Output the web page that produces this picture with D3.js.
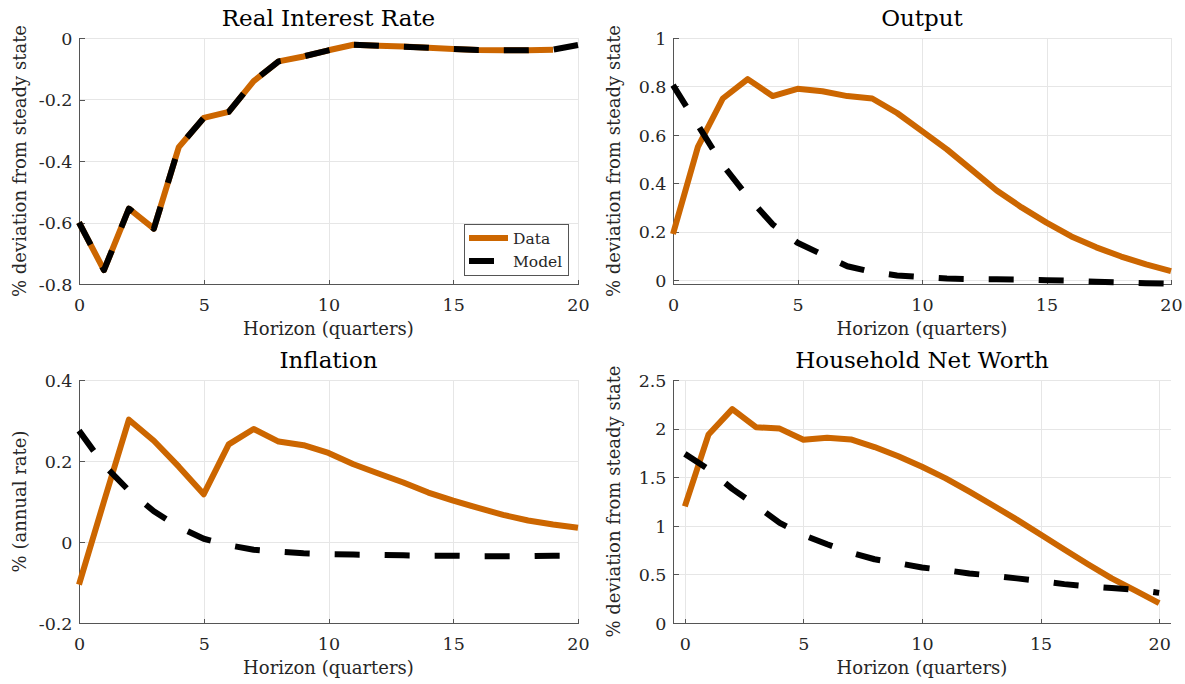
<!DOCTYPE html>
<html>
<head>
<meta charset="utf-8">
<script src="https://cdn.jsdelivr.net/npm/d3@7"></script>
<style>
  html, body { margin: 0; padding: 0; background: #fff; }
</style>
</head>
<body>
<svg id="chart" width="1185" height="684"></svg>
<script>
// Impulse responses, horizon in quarters
const horizon = [0, 1, 2, 3, 4, 5, 6, 7, 8, 9, 10, 11, 12, 13, 14, 15, 16, 17, 18, 19, 20];

// Real interest rate (% deviation from steady state); data stops at quarter 19
const rirData  = [-0.600, -0.755, -0.555, -0.620, -0.355, -0.260, -0.240, -0.140, -0.076, -0.060,
                  -0.040, -0.022, -0.025, -0.028, -0.032, -0.036, -0.039, -0.040, -0.040, -0.038];
const rirModel = [-0.600, -0.755, -0.555, -0.620, -0.355, -0.260, -0.240, -0.140, -0.076, -0.060,
                  -0.040, -0.022, -0.025, -0.028, -0.032, -0.036, -0.039, -0.040, -0.040, -0.038, -0.023];

// Output (% deviation from steady state)
const outputData  = [0.190, 0.550, 0.750, 0.830, 0.760, 0.790, 0.780, 0.760, 0.750, 0.690, 0.615,
                     0.540, 0.455, 0.370, 0.300, 0.237, 0.180, 0.135, 0.097, 0.065, 0.037];
const outputModel = [0.805, 0.640, 0.475, 0.345, 0.230, 0.154, 0.105, 0.057, 0.033, 0.019, 0.012,
                     0.006, 0.004, 0.003, 0.002, -0.001, -0.003, -0.007, -0.010, -0.013, -0.015];

// Inflation (%, annual rate)
const inflData  = [-0.105, 0.100, 0.302, 0.250, 0.186, 0.118, 0.241, 0.279, 0.248, 0.239, 0.220,
                   0.192, 0.169, 0.147, 0.122, 0.102, 0.084, 0.067, 0.053, 0.043, 0.035];
const inflModel = [0.275, 0.190, 0.127, 0.076, 0.037, 0.008, -0.008, -0.019, -0.024, -0.028, -0.030,
                   -0.031, -0.032, -0.033, -0.034, -0.034, -0.035, -0.035, -0.035, -0.034, -0.034];

// Household net worth (% deviation from steady state)
const nwData  = [1.200, 1.940, 2.200, 2.015, 2.000, 1.885, 1.905, 1.889, 1.810, 1.715, 1.607,
                 1.488, 1.352, 1.209, 1.063, 0.910, 0.757, 0.605, 0.459, 0.333, 0.205];
const nwModel = [1.740, 1.580, 1.380, 1.210, 1.030, 0.905, 0.810, 0.724, 0.656, 0.615, 0.571,
                 0.543, 0.510, 0.486, 0.459, 0.431, 0.400, 0.377, 0.360, 0.343, 0.310];

// Tick values
const horizonTicks = [0, 5, 10, 15, 20];
const rirTicks     = [-0.8, -0.6, -0.4, -0.2, 0];
const outputTicks  = [0, 0.2, 0.4, 0.6, 0.8, 1];
const inflTicks    = [-0.2, 0, 0.2, 0.4];
const nwTicks      = [0, 0.5, 1, 1.5, 2, 2.5];

// Labels
const seriesNames = ["Data", "Model"];
const xLabel = "Horizon (quarters)";

const FONT = "'DejaVu Serif', serif";
const COLOR_DATA = "#cc6600";
const COLOR_MODEL = "#000000";
const DASH = "25,25";

const svg = d3.select("#chart");

const panels = [
  { title: "Real Interest Rate", ylabel: "% deviation from steady state",
    data: rirData, model: rirModel, yTicks: rirTicks, yDomain: [-0.8, 0], xDomain: [0, 20],
    box: { l: 79, r: 578, t: 38, b: 284 }, legend: true },
  { title: "Output", ylabel: "% deviation from steady state",
    data: outputData, model: outputModel, yTicks: outputTicks, yDomain: [-0.0165, 1], xDomain: [0, 20],
    box: { l: 673, r: 1171, t: 38, b: 284 } },
  { title: "Inflation", ylabel: "% (annual rate)",
    data: inflData, model: inflModel, yTicks: inflTicks, yDomain: [-0.2, 0.4], xDomain: [0, 20],
    box: { l: 79, r: 578, t: 380, b: 623 } },
  { title: "Household Net Worth", ylabel: "% deviation from steady state",
    data: nwData, model: nwModel, yTicks: nwTicks, yDomain: [0, 2.5], xDomain: [-0.5, 20.5],
    box: { l: 673, r: 1171, t: 380, b: 623 } }
];

function styleText(sel, size, spacing, color) {
  return sel.style("font-family", FONT).style("font-size", size + "px")
    .style("letter-spacing", spacing + "px").attr("fill", color || "#262626");
}

panels.forEach(p => {
  const { l, r, t, b } = p.box;
  const x = d3.scaleLinear().domain(p.xDomain).range([l, r]);
  const y = d3.scaleLinear().domain(p.yDomain).range([b, t]);
  const g = svg.append("g");

  // grid
  const grid = g.append("g").attr("stroke", "#e6e6e6").attr("stroke-width", 1).attr("shape-rendering", "crispEdges");
  grid.selectAll("line.gx").data(horizonTicks.filter(d => d >= p.xDomain[0] && d <= p.xDomain[1]))
    .join("line").attr("class", "gx")
    .attr("x1", d => Math.round(x(d)) + 0.5).attr("x2", d => Math.round(x(d)) + 0.5)
    .attr("y1", t).attr("y2", b);
  grid.selectAll("line.gy").data(p.yTicks)
    .join("line").attr("class", "gy")
    .attr("y1", d => Math.round(y(d)) + 0.5).attr("y2", d => Math.round(y(d)) + 0.5)
    .attr("x1", l).attr("x2", r);

  // axes (ticks pointing inward)
  const xAxis = d3.axisBottom(x).tickValues(horizonTicks).tickSize(-5).tickPadding(0).tickFormat(d => String(d));
  const yAxis = d3.axisLeft(y).tickValues(p.yTicks).tickSize(-5).tickPadding(0).tickFormat(d => String(d));

  const gx = g.append("g").attr("transform", `translate(0,${Math.round(b) + 0.5})`).call(xAxis);
  const gy = g.append("g").attr("transform", `translate(${Math.round(l) + 0.5},0)`).call(yAxis);
  [gx, gy].forEach(ax => {
    ax.attr("font-family", null).attr("font-size", null);
    ax.select(".domain").attr("stroke", "#555").attr("stroke-width", 1).attr("shape-rendering", "crispEdges");
    ax.selectAll(".tick line").attr("stroke", "#555").attr("shape-rendering", "crispEdges");
    styleText(ax.selectAll(".tick text"), 17.5, 0);
  });
  gx.select(".domain").attr("d", `M${l},0H${r}`);
  gy.select(".domain").attr("d", `M0,${b}V${t}`);
  gx.selectAll(".tick text").attr("y", 26).attr("dy", null);
  gy.selectAll(".tick text").attr("x", -7).attr("dy", "0.36em");

  // series
  const line = d3.line().x((d, i) => x(horizon[i])).y(d => y(d));
  g.append("path").datum(p.data).attr("d", line)
    .attr("fill", "none").attr("stroke", COLOR_DATA).attr("stroke-width", 6)
    .attr("stroke-linejoin", "round").attr("stroke-linecap", "butt");
  g.append("path").datum(p.model).attr("d", line)
    .attr("fill", "none").attr("stroke", COLOR_MODEL).attr("stroke-width", 6)
    .attr("stroke-dasharray", DASH).attr("stroke-linejoin", "round").attr("stroke-linecap", "butt");

  // title
  styleText(g.append("text").attr("x", (l + r) / 2).attr("y", t - 12).attr("text-anchor", "middle"),
    23, 0, "#000").text(p.title);

  // x label
  styleText(g.append("text").attr("x", (l + r) / 2).attr("y", b + 51).attr("text-anchor", "middle"),
    18, 0).text(xLabel);

  // y label
  styleText(g.append("text").attr("transform", `translate(${l - 53},${(t + b) / 2}) rotate(-90)`)
    .attr("text-anchor", "middle"), 18, 0).text(p.ylabel);

  if (p.legend) {
    const lx = r - 114, ly = b - 60;
    const lg = g.append("g");
    lg.append("rect").attr("x", lx + 0.5).attr("y", ly + 0.5).attr("width", 104).attr("height", 51)
      .attr("fill", "#fff").attr("stroke", "#555").attr("stroke-width", 1);
    const items = [
      { name: seriesNames[0], color: COLOR_DATA, dash: null },
      { name: seriesNames[1], color: COLOR_MODEL, dash: DASH }
    ];
    items.forEach((it, i) => {
      const yy = ly + 14 + i * 23;
      lg.append("line").attr("x1", lx + 5).attr("x2", lx + 44).attr("y1", yy).attr("y2", yy)
        .attr("stroke", it.color).attr("stroke-width", 6).attr("stroke-dasharray", it.dash);
      styleText(lg.append("text").attr("x", lx + 49).attr("y", yy + 6), 15.5, 0).text(it.name);
    });
  }
});
</script>
</body>
</html>
